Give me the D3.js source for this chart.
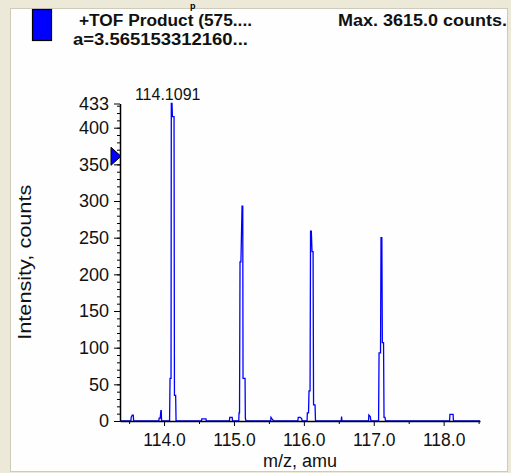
<!DOCTYPE html>
<html>
<head>
<meta charset="utf-8">
<script src="https://cdn.jsdelivr.net/npm/d3@7"></script>
<style>
  html, body { margin: 0; padding: 0; background: #ece9d8; }
  svg { display: block; }
  text { font-family: "Liberation Sans", Arial, sans-serif; }
</style>
</head>
<body>
<svg id="chart" width="511" height="473"></svg>
<script>
// Header texts of the spectrum pane
const titleLine1 = "+TOF Product (575....";
const titleLine2 = "a=3.565153312160...";
const maxLabel = "Max. 3615.0 counts.";
const peakLabel = "114.1091";
const peakLabelMz = 114.1091;
const thresholdCounts = 361;

// Axis ticks
const xMajorTicks = [114, 115, 116, 117, 118];
const xMinorTicks = [113.5, 114.5, 115.5, 116.5, 117.5, 118.5];
const yMajorTicks = [0, 50, 100, 150, 200, 250, 300, 350, 400, 433];
const yMinorTicks = d3.range(0, 431, 10);

// Profile spectrum: m/z values and intensities (counts)
const mz = [
  113.37, 113.525, 113.53, 113.545, 113.56, 113.565,
  113.925, 113.93, 113.945, 113.955, 113.96, 113.965,
  114.079, 114.086, 114.1, 114.104, 114.114, 114.12, 114.143, 114.149, 114.166, 114.172,
  114.535, 114.54, 114.6, 114.605,
  114.935, 114.94, 114.975, 114.98,
  115.069, 115.073, 115.08, 115.087, 115.1, 115.116, 115.126, 115.13, 115.159, 115.163, 115.173,
  115.525, 115.53, 115.545, 115.57,
  115.915, 115.92, 115.95, 115.97, 115.975,
  116.046, 116.05, 116.067, 116.074, 116.089, 116.096, 116.107, 116.117, 116.132, 116.139, 116.16, 116.167,
  116.535, 116.54, 116.545,
  116.925, 116.93, 116.95, 116.96,
  117.069, 117.076, 117.097, 117.104, 117.116, 117.123, 117.14, 117.147, 117.161, 117.169,
  118.085, 118.09, 118.135, 118.14,
  118.52
];
const counts = [
  0, 0, 5, 8, 8, 0,
  0, 4, 4, 14, 14, 0,
  0, 58, 58, 433, 433, 415, 415, 35, 35, 0,
  0, 3, 3, 0,
  0, 5, 5, 0,
  0, 11, 11, 217, 217, 293, 293, 58, 58, 4, 0,
  0, 5, 3, 0,
  0, 5, 5, 3, 0,
  0, 11, 11, 41, 41, 259, 259, 231, 231, 22, 22, 0,
  0, 6, 0,
  0, 8, 6, 0,
  0, 93, 93, 250, 250, 107, 107, 5, 5, 0,
  0, 9, 9, 0,
  0
];

const svg = d3.select("#chart");

// Pane background
svg.append("rect")
  .attr("x", 10.5).attr("y", 8.5)
  .attr("width", 497).attr("height", 463)
  .attr("fill", "#fefefe")
  .attr("stroke", "#cfcbbb");

// Caption fragment above the pane
svg.append("text")
  .attr("x", 190).attr("y", 8.5)
  .attr("font-family", "'Liberation Serif', serif")
  .attr("font-weight", "bold")
  .attr("font-size", 9)
  .attr("fill", "#000")
  .text("p");

// Legend swatch
svg.append("rect")
  .attr("x", 32.5).attr("y", 9.5)
  .attr("width", 19).attr("height", 31)
  .attr("fill", "#0000ff")
  .attr("stroke", "#000")
  .attr("stroke-width", 1.2);

const header = svg.append("g")
  .attr("font-weight", "bold")
  .attr("font-size", 16)
  .attr("fill", "#111");
header.append("text").attr("x", 79).attr("y", 26)
  .attr("textLength", 173).attr("lengthAdjust", "spacingAndGlyphs").text(titleLine1);
header.append("text").attr("x", 73).attr("y", 45)
  .attr("textLength", 175).attr("lengthAdjust", "spacingAndGlyphs").text(titleLine2);
header.append("text").attr("x", 338).attr("y", 26)
  .attr("textLength", 169).attr("lengthAdjust", "spacingAndGlyphs").text(maxLabel);

// Scales
const x = d3.scaleLinear().domain([113.37, 118.52]).range([120, 480]);
const y = d3.scaleLinear().domain([0, 433]).range([421, 103.5]);

// Spectrum trace
const points = mz.map((m, i) => [m, counts[i]]);
svg.append("path")
  .datum(points)
  .attr("fill", "none")
  .attr("stroke", "#0000ff")
  .attr("stroke-width", 1.3)
  .attr("d", d3.line().x(d => x(d[0])).y(d => y(d[1])));

// Y axis: minor ticks then major ticks with labels
svg.append("g")
  .attr("transform", "translate(120,0)")
  .call(d3.axisLeft(y).tickValues(yMinorTicks).tickSize(3).tickFormat(""))
  .call(g => g.select(".domain").remove())
  .call(g => g.selectAll("line").attr("stroke", "#000"));

const yAxis = svg.append("g")
  .attr("transform", "translate(120,0)")
  .call(d3.axisLeft(y).tickValues(yMajorTicks).tickSize(6).tickSizeOuter(0).tickPadding(5));
yAxis.select(".domain").attr("stroke", "#000").attr("stroke-width", 1.5);
yAxis.selectAll("line").attr("stroke", "#000");
yAxis.selectAll("text")
  .attr("font-family", "'Liberation Sans', Arial, sans-serif")
  .attr("font-size", 18).attr("fill", "#111");

// X axis: minor ticks then major ticks with labels
svg.append("g")
  .attr("transform", "translate(0,421)")
  .call(d3.axisBottom(x).tickValues(xMinorTicks).tickSize(3).tickFormat(""))
  .call(g => g.select(".domain").remove())
  .call(g => g.selectAll("line").attr("stroke", "#000"));

const xAxis = svg.append("g")
  .attr("transform", "translate(0,421)")
  .call(d3.axisBottom(x).tickValues(xMajorTicks).tickSize(5).tickSizeOuter(0)
    .tickPadding(8).tickFormat(d3.format(".1f")));
xAxis.select(".domain").attr("stroke", "#000").attr("stroke-width", 1.5);
xAxis.selectAll("line").attr("stroke", "#000");
xAxis.selectAll("text")
  .attr("font-family", "'Liberation Sans', Arial, sans-serif")
  .attr("font-size", 17.5).attr("fill", "#111");

// Axis titles
svg.append("text")
  .attr("transform", `translate(31,${(y.range()[0] + y.range()[1]) / 2}) rotate(-90)`)
  .attr("text-anchor", "middle")
  .attr("font-size", 18).attr("fill", "#111")
  .attr("textLength", 155).attr("lengthAdjust", "spacingAndGlyphs")
  .text("Intensity, counts");

svg.append("text")
  .attr("x", (x.range()[0] + x.range()[1]) / 2).attr("y", 467)
  .attr("text-anchor", "middle")
  .attr("font-size", 18).attr("fill", "#111")
  .text("m/z, amu");

// Base-peak annotation
svg.append("text")
  .attr("x", x(peakLabelMz) - 4).attr("y", 100)
  .attr("text-anchor", "middle")
  .attr("font-size", 16).attr("fill", "#111")
  .text(peakLabel);

// Threshold marker on the intensity axis
const ty = y(thresholdCounts);
svg.append("path")
  .attr("d", `M111,${ty - 9} L121,${ty} L111,${ty + 9} Z`)
  .attr("fill", "#0000ff")
  .attr("stroke", "#000")
  .attr("stroke-width", 1);
</script>
</body>
</html>
